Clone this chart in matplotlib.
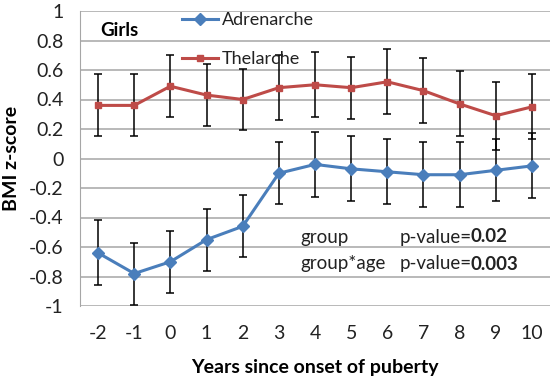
import matplotlib.pyplot as plt
from matplotlib.lines import Line2D

plt.rcParams['font.family'] = ['Lato', 'DejaVu Sans']

years = [-2, -1, 0, 1, 2, 3, 4, 5, 6, 7, 8, 9, 10]
adrenarche = [-0.64, -0.78, -0.70, -0.55, -0.46, -0.10, -0.04, -0.07, -0.09, -0.11, -0.11, -0.08, -0.05]
adrenarche_err = [0.22, 0.21, 0.21, 0.21, 0.21, 0.21, 0.22, 0.22, 0.22, 0.22, 0.22, 0.21, 0.22]
thelarche = [0.36, 0.36, 0.49, 0.43, 0.40, 0.48, 0.50, 0.48, 0.52, 0.46, 0.37, 0.29, 0.35]
thelarche_err = [0.21, 0.21, 0.21, 0.21, 0.21, 0.22, 0.22, 0.21, 0.22, 0.22, 0.22, 0.23, 0.22]

blue = '#4A7EBB'
red = '#BE4B48'

fig = plt.figure(figsize=(5.52, 3.84), dpi=100)
ax = fig.add_axes([80 / 552, 78 / 384, 470 / 552, 295 / 384])

pos = list(range(len(years)))
ax.errorbar(pos, adrenarche, yerr=adrenarche_err, color=blue, lw=2.2, marker='D', ms=6.5,
            ecolor='black', elinewidth=1.1, capsize=3, capthick=1.1, zorder=3)
ax.errorbar(pos, thelarche, yerr=thelarche_err, color=red, lw=2.2, marker='s', ms=5,
            ecolor='black', elinewidth=1.1, capsize=3, capthick=1.1, zorder=3)

ax.set_xlim(-0.5, len(years) - 0.5)
ax.set_ylim(-1, 1)
ax.set_xticks(pos)
ax.set_xticklabels([str(y) for y in years])
ax.set_yticks([-1, -0.8, -0.6, -0.4, -0.2, 0, 0.2, 0.4, 0.6, 0.8, 1])
ax.set_yticklabels(['-1', '-0.8', '-0.6', '-0.4', '-0.2', '0', '0.2', '0.4', '0.6', '0.8', '1'])
ax.tick_params(length=0, labelsize=14, colors='#222222')
ax.tick_params(axis='x', pad=14)
ax.tick_params(axis='y', pad=12)
ax.grid(axis='y', color='#A6A6A6', lw=1.1)
for s in ['top', 'right', 'bottom']:
    ax.spines[s].set_visible(False)
ax.spines['left'].set_color('#A6A6A6')

ax.set_xlabel('Years since onset of puberty', fontsize=14, fontweight='bold', labelpad=12)
ax.set_ylabel('BMI z-score', fontsize=14, fontweight='bold', labelpad=6)

ax.text(100, 384 - 31, 'Girls', transform=None, fontsize=13.5, fontweight='bold', va='center')

handles = [Line2D([], [], color=blue, lw=2.2, marker='D', ms=6.5),
           Line2D([], [], color=red, lw=2.2, marker='s', ms=5)]
leg = ax.legend(handles, ['Adrenarche', 'Thelarche'], loc='upper left',
                bbox_to_anchor=(182 / 552, 1 - 12 / 384),
                bbox_transform=fig.transFigure, frameon=False, fontsize=13,
                handlelength=2.0, handletextpad=0.2, labelspacing=1.3,
                borderpad=0, borderaxespad=0)
for t in leg.get_texts():
    t.set_color('#222222')

def pvalue(x, y, name, val):
    ax.text(x, y, name, transform=None, fontsize=13.5, va='center', color='#222222')
    t = ax.text(400, y, 'p-value=', transform=None, fontsize=13.5, va='center', color='#222222')
    ax.annotate(val, xy=(1, 0.5), xycoords=t, xytext=(-1.5, 0), textcoords='offset points',
                va='center', fontsize=13.5, fontweight='bold', color='#222222')

pvalue(300, 384 - 237, 'group', '0.02')
pvalue(300, 384 - 264, 'group*age', '0.003')

fig.savefig('out.png', dpi=100)
